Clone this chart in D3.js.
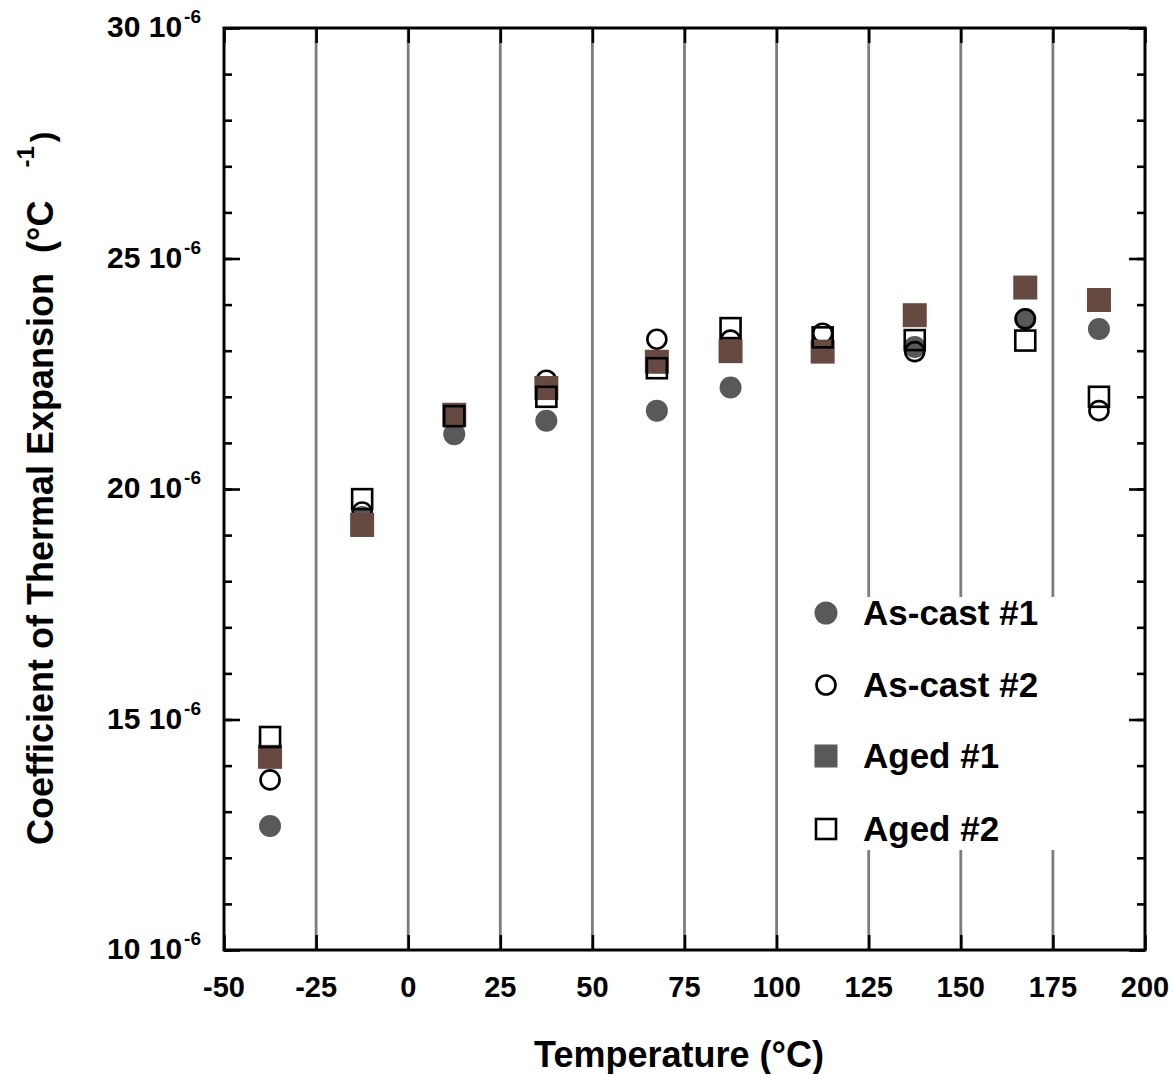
<!DOCTYPE html>
<html>
<head>
<meta charset="utf-8">
<script src="https://cdn.jsdelivr.net/npm/d3@7"></script>
<style>
  html, body { margin: 0; padding: 0; background: #fff; }
  svg { display: block; }
  text { font-family: "Liberation Sans", Arial, Helvetica, sans-serif; font-weight: bold; fill: #000; white-space: pre; }
</style>
</head>
<body>
<svg id="chart" width="1173" height="1074"></svg>
<script>
// ---- data (CTE in units of 10^-6 /°C) ----
const temperatures = [-37.5, -12.5, 12.5, 37.5, 67.5, 87.5, 112.5, 137.5, 167.5, 187.5];
const asCast1 = [12.69, 19.39, 21.19, 21.48, 21.70, 22.20, 22.97, 23.08, 23.69, 23.47];
const asCast2 = [13.69, 19.50, 21.60, 22.36, 23.25, 23.23, 23.38, 22.98, 23.69, 21.70];
const aged1   = [14.19, 19.22, 21.61, 22.19, 22.76, 22.99, 22.98, 23.77, 24.37, 24.10];
const aged2   = [14.62, 19.78, 21.58, 22.00, 22.62, 23.49, 23.29, 23.23, 23.22, 22.00];
const seriesNames = ["As-cast #1", "As-cast #2", "Aged #1", "Aged #2"];
const xTickValues = [-50, -25, 0, 25, 50, 75, 100, 125, 150, 175, 200];
const yTickValues = [10, 15, 20, 25, 30];
const yMinorTickValues = d3.range(10, 31, 1);
const yTickExponent = "-6";
const xTitle = "Temperature (°C)";
const yTitle = "Coefficient of Thermal Expansion  (°C";

// ---- layout ----
const L = 224, T = 28, R = 1145, B = 950;
const svg = d3.select("#chart");
const x = d3.scaleLinear().domain([-50, 200]).range([L, R]);
const y = d3.scaleLinear().domain([10, 30]).range([B, T]);

const GRAY = "#58595b", BROWN = "#664a42";

// grid lines
svg.append("g").attr("class", "grid")
  .selectAll("line").data(xTickValues.slice(1, -1)).join("line")
  .attr("x1", d => x(d)).attr("x2", d => x(d))
  .attr("y1", T).attr("y2", B)
  .attr("stroke", "#7d7d7d").attr("stroke-width", 2.8);

// legend background (interrupts grid lines)
svg.append("rect").attr("x", 795).attr("y", 597).attr("width", 268).attr("height", 253).attr("fill", "#fff");

// axes ticks (inward)
const tickStyle = g => {
  g.select(".domain").remove();
  g.selectAll(".tick line").attr("stroke", "#000").attr("stroke-width", 2.6);
  g.selectAll(".tick text").remove();
};
svg.append("g").attr("transform", `translate(${L},0)`)
  .call(d3.axisRight(y).tickValues(yMinorTickValues).tickSize(8).tickFormat("")).call(tickStyle);
svg.append("g").attr("transform", `translate(${L},0)`)
  .call(d3.axisRight(y).tickValues(yTickValues).tickSize(16).tickFormat("")).call(tickStyle);
svg.append("g").attr("transform", `translate(${R},0)`)
  .call(d3.axisLeft(y).tickValues(yMinorTickValues).tickSize(8).tickFormat("")).call(tickStyle);
svg.append("g").attr("transform", `translate(${R},0)`)
  .call(d3.axisLeft(y).tickValues(yTickValues).tickSize(16).tickFormat("")).call(tickStyle);
svg.append("g").attr("transform", `translate(0,${B})`)
  .call(d3.axisTop(x).tickValues(xTickValues).tickSize(15).tickFormat("")).call(tickStyle);
svg.append("g").attr("transform", `translate(0,${T})`)
  .call(d3.axisBottom(x).tickValues(xTickValues).tickSize(15).tickFormat("")).call(tickStyle);

// frame
svg.append("rect").attr("x", L).attr("y", T).attr("width", R - L).attr("height", B - T)
  .attr("fill", "none").attr("stroke", "#000").attr("stroke-width", 3);

// x tick labels
svg.append("g").selectAll("text").data(xTickValues).join("text")
  .attr("x", d => x(d)).attr("y", 997)
  .attr("text-anchor", "middle").attr("font-size", 29)
  .text(d => d);

// y tick labels with superscript
const yl = svg.append("g").selectAll("text").data(yTickValues).join("text")
  .attr("x", 201).attr("y", d => y(d) + 9)
  .attr("text-anchor", "end").attr("font-size", 30);
yl.append("tspan").text(d => d + " 10");
yl.append("tspan").attr("font-size", 19).attr("dx", 2).attr("dy", -14).text(yTickExponent);

// axis titles
svg.append("text").attr("x", 679).attr("y", 1067).attr("text-anchor", "middle")
  .attr("font-size", 36).text(xTitle);

const yt = svg.append("text").attr("transform", "translate(53,845) rotate(-90)")
  .attr("text-anchor", "start").attr("font-size", 36);
yt.append("tspan").text(yTitle);
yt.append("tspan").attr("font-size", 24).attr("dx", 33).attr("dy", -19).text("-1");
yt.append("tspan").attr("font-size", 32).attr("dx", 4).attr("dy", 19).text(")");

// markers
const plotG = svg.append("g");
const circleFilled = (g, vals) => g.selectAll(null).data(vals).join("circle")
  .attr("cx", (d, i) => x(temperatures[i])).attr("cy", d => y(d)).attr("r", 11).attr("fill", GRAY);
const circleOpen = (g, vals) => g.selectAll(null).data(vals).join("circle")
  .attr("cx", (d, i) => x(temperatures[i])).attr("cy", d => y(d)).attr("r", 9.5)
  .attr("fill", "none").attr("stroke", "#000").attr("stroke-width", 2.6);
const squareFilled = (g, vals) => g.selectAll(null).data(vals).join("rect")
  .attr("x", (d, i) => x(temperatures[i]) - 12).attr("y", d => y(d) - 12)
  .attr("width", 24).attr("height", 24).attr("fill", BROWN);
const squareOpen = (g, vals) => g.selectAll(null).data(vals).join("rect")
  .attr("x", (d, i) => x(temperatures[i]) - 10).attr("y", d => y(d) - 10)
  .attr("width", 20).attr("height", 20).attr("fill", "none").attr("stroke", "#000").attr("stroke-width", 2.6);

circleFilled(plotG.append("g"), asCast1);
circleOpen(plotG.append("g"), asCast2);
squareFilled(plotG.append("g"), aged1);
squareOpen(plotG.append("g"), aged2);

// legend
const legendRows = [613, 685, 756, 829];
const lg = svg.append("g");
const sx = 826;
lg.append("circle").attr("cx", sx).attr("cy", legendRows[0]).attr("r", 11.5).attr("fill", GRAY);
lg.append("circle").attr("cx", sx).attr("cy", legendRows[1]).attr("r", 9.5)
  .attr("fill", "none").attr("stroke", "#000").attr("stroke-width", 2.6);
lg.append("rect").attr("x", sx - 11.5).attr("y", legendRows[2] - 11.5).attr("width", 23).attr("height", 23).attr("fill", GRAY);
lg.append("rect").attr("x", sx - 10).attr("y", legendRows[3] - 10).attr("width", 20).attr("height", 20)
  .attr("fill", "none").attr("stroke", "#000").attr("stroke-width", 2.6);
lg.selectAll("text").data(seriesNames).join("text")
  .attr("x", 863).attr("y", (d, i) => legendRows[i] + 12)
  .attr("font-size", 35).text(d => d);
</script>
</body>
</html>
